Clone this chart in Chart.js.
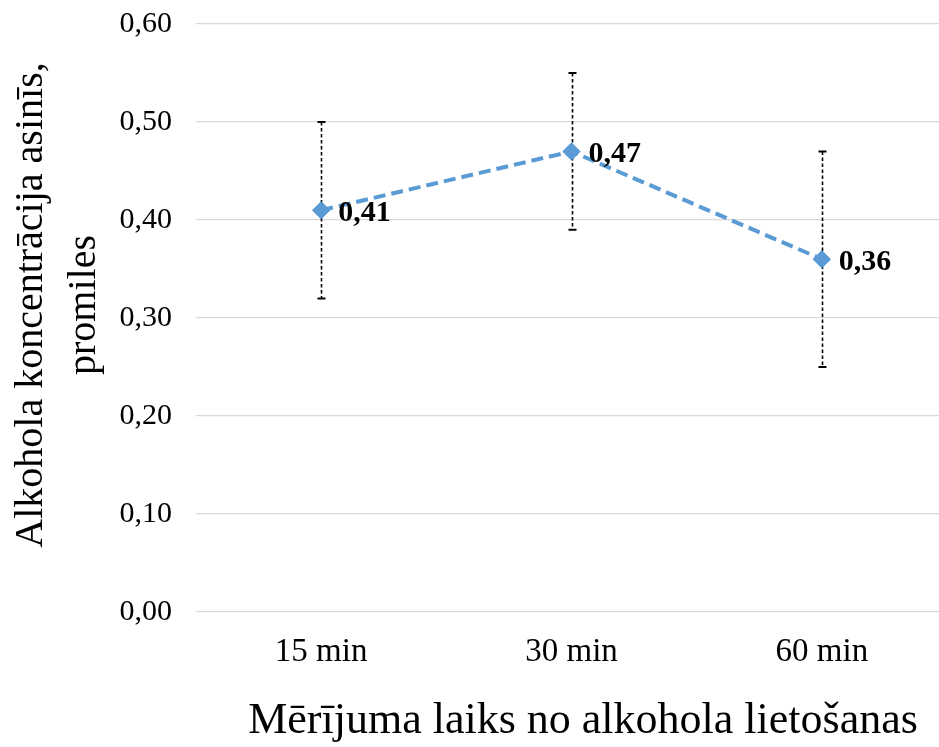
<!DOCTYPE html>
<html>
<head>
<meta charset="utf-8">
<script src="https://cdn.jsdelivr.net/npm/chart.js@4.4.1/dist/chart.umd.min.js"></script>
<style>
  html, body { margin: 0; padding: 0; background: #fff; overflow: hidden; }
  canvas { display: block; }
</style>
</head>
<body>
<canvas id="chart" width="947" height="747"></canvas>
<script>
const categories = ["15 min", "30 min", "60 min"];
const means = [0.41, 0.47, 0.36];
const errLow = [0.32, 0.39, 0.25];
const errHigh = [0.50, 0.55, 0.47];
const yTicks = [0, 0.1, 0.2, 0.3, 0.4, 0.5, 0.6];
const yTitle = ["Alkohola koncentrācija asinīs,", "promiles"];
const xTitle = "Mērījuma laiks no alkohola lietošanas";

const fmt = v => v.toFixed(2).replace(".", ",");

const errorBars = {
  id: "errorBars",
  afterDatasetsDraw(chart) {
    const { ctx, scales: { y } } = chart;
    const meta = chart.getDatasetMeta(0);
    ctx.save();
    meta.data.forEach((pt, i) => {
      const x = Math.round(pt.x) + 0.5;
      const top = y.getPixelForValue(errHigh[i]);
      const bot = y.getPixelForValue(errLow[i]);
      ctx.strokeStyle = "#000";
      ctx.lineWidth = 1.6;
      ctx.setLineDash([3.5, 2.5]);
      ctx.beginPath();
      ctx.moveTo(x, top);
      ctx.lineTo(x, bot);
      ctx.stroke();
      ctx.setLineDash([]);
      ctx.lineWidth = 2;
      ctx.beginPath();
      ctx.moveTo(x - 4, top); ctx.lineTo(x + 4, top);
      ctx.moveTo(x - 4, bot); ctx.lineTo(x + 4, bot);
      ctx.stroke();
    });
    // markers sit above the error bars
    meta.data.forEach(pt => pt.draw(ctx));
    // value labels
    ctx.fillStyle = "#000";
    ctx.font = "bold 30px 'Liberation Serif'";
    ctx.textAlign = "left";
    ctx.textBaseline = "middle";
    meta.data.forEach((pt, i) => {
      ctx.fillText(fmt(means[i]), pt.x + 17, pt.y + 3);
    });
    ctx.restore();
  },
  afterDraw(chart) {
    const { ctx } = chart;
    ctx.save();
    ctx.fillStyle = "#000";
    ctx.textBaseline = "alphabetic";
    ctx.textAlign = "center";
    ctx.font = "44px 'Liberation Serif'";
    ctx.fillText(xTitle, 583, 733);
    ctx.font = "40px 'Liberation Serif'";
    ctx.translate(42, 305);
    ctx.rotate(-Math.PI / 2);
    ctx.fillText(yTitle[0], 0, 0);
    ctx.fillText(yTitle[1], 0, 53);
    ctx.restore();
  }
};

new Chart(document.getElementById("chart"), {
  type: "line",
  data: {
    labels: categories,
    datasets: [{
      data: means,
      borderColor: "#5b9bd5",
      backgroundColor: "#5b9bd5",
      borderWidth: 4,
      borderDash: [12, 6],
      pointStyle: "rectRot",
      pointRadius: 9,
      pointHoverRadius: 9,
      pointBorderWidth: 0,
      fill: false,
      tension: 0
    }]
  },
  options: {
    responsive: false,
    animation: false,
    events: [],
    layout: { autoPadding: false, padding: { top: 24, right: 0, left: 0, bottom: 0 } },
    plugins: { legend: { display: false }, tooltip: { enabled: false } },
    scales: {
      x: {
        offset: true,
        grid: { display: false, drawTicks: false },
        border: { display: false },
        ticks: { color: "#000", font: { family: "Liberation Serif", size: 33 }, padding: 21 },
        afterFit(scale) {
          scale.height = 135;
          scale.paddingLeft = 0;
          scale.paddingRight = 0;
        }
      },
      y: {
        min: 0,
        max: 0.6,
        afterBuildTicks(scale) { scale.ticks = yTicks.map(v => ({ value: v })); },
        grid: { color: "#d9d9d9", lineWidth: 1.3, drawTicks: false },
        border: { display: false },
        ticks: { color: "#000", font: { family: "Liberation Serif", size: 30 }, padding: 24, callback: v => fmt(v) },
        afterFit(scale) {
          scale.width = 196;
          scale.paddingTop = 0;
          scale.paddingBottom = 0;
        }
      }
    }
  },
  plugins: [errorBars]
});
</script>
</body>
</html>
